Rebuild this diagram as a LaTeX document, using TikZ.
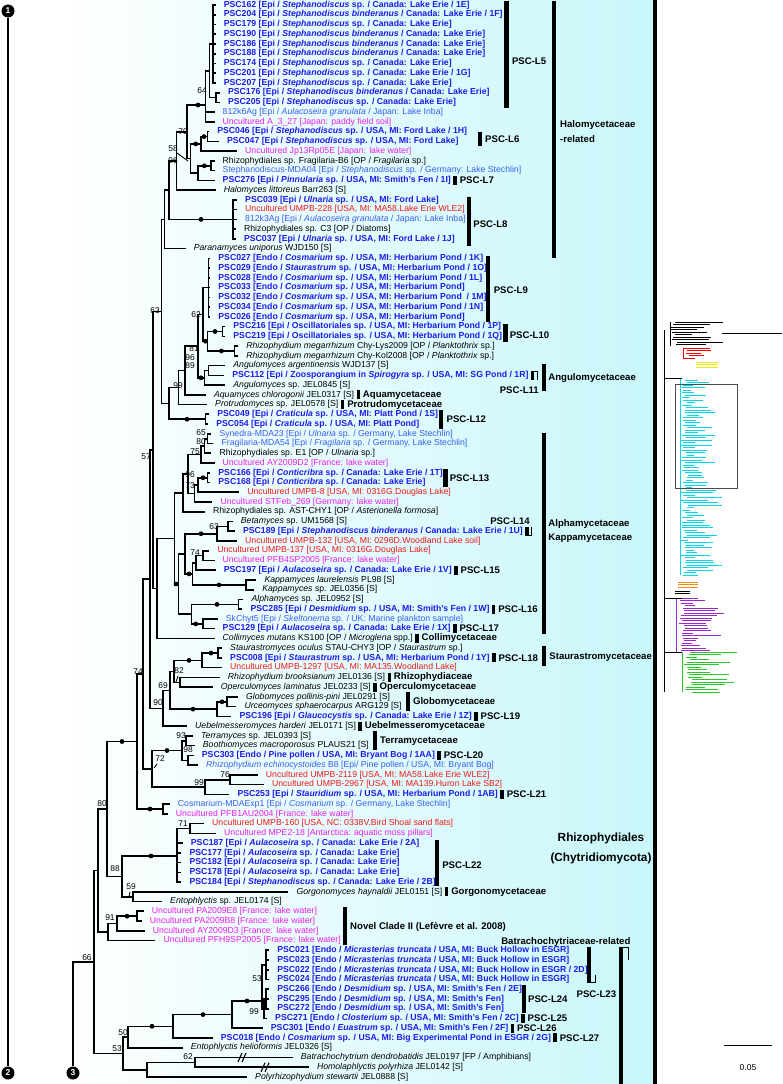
\documentclass[tikz,border=0pt]{standalone}
\usepackage{fontspec}
\setmainfont{Liberation Sans}
\usetikzlibrary{calc}
\definecolor{pscb}{RGB}{28,28,235}
\definecolor{lblue}{RGB}{55,95,240}
\definecolor{mag}{RGB}{235,30,235}
\definecolor{redA}{RGB}{240,25,25}
\definecolor{bgc}{RGB}{200,247,250}
\definecolor{thcyan}{RGB}{0,215,235}
\definecolor{thpurple}{RGB}{150,40,200}
\definecolor{thgreen}{RGB}{40,200,40}
\definecolor{thorange}{RGB}{240,140,30}
\definecolor{thyellow}{RGB}{240,230,20}
\pgfmathdeclarefunction{R}{1}{\pgfmathparse{5+(#1-1)*9.745}}
\newcommand\leafnode[4]{\node[#3] (L#1) at (#2,{R(#1)}) {#4};}
\newcommand\edgeL[2]{\draw[br] (#1) |- ([xshift=-8pt]L#2.west);}
\newcommand\edgeI[2]{\draw[br] (#1) |- (#2);}
\newcommand\tagbar[3]{\draw[sbar] ([xshift=4pt,yshift=-4.5pt]L#1.east) -- ([xshift=4pt,yshift=4.5pt]L#1.east);
  \node[lab] (#2) at ([xshift=8.5pt]L#1.east) {#3};}
\tikzset{
 lf/.style={anchor=west, inner sep=0pt, font=\fontsize{8.7}{9}\selectfont},
 psc/.style={lf, text=pscb, font=\fontsize{8.7}{9}\selectfont\bfseries},
 lb/.style={lf, text=lblue},
 mg/.style={lf, text=mag},
 rd/.style={lf, text=redA},
 bk/.style={lf, text=black},
 br/.style={line width=1.6pt},
 dt/.style={circle, fill=black, inner sep=0pt, minimum size=4.8pt},
 bs/.style={inner sep=0pt, font=\fontsize{8.4}{9}\selectfont},
 bar/.style={line width=4.2pt},
 sbar/.style={line width=3.4pt},
 thin/.style={line width=0.9pt},
 lab/.style={anchor=west, inner sep=0pt, font=\fontsize{9.6}{10}\selectfont\bfseries},
 biglab/.style={inner sep=0pt, font=\fontsize{11.8}{13}\selectfont\bfseries},
 numc/.style={circle, fill=black, text=white, inner sep=0pt, minimum size=13pt, font=\fontsize{8.5}{9}\selectfont\bfseries},
}
\begin{document}
\begin{tikzpicture}[x=1pt,y=-1pt]
\useasboundingbox (0,0) rectangle (782,1084);
\shade[left color=white,right color=bgc] (60,0) rectangle (655,1084);
\draw[line width=3.4pt] (655,0) -- (655,1084);

% ---------------- leaves ----------------
\leafnode{1}{223.6}{psc}{PSC162 [Epi / \textit{Stephanodiscus} sp. / Canada: Lake Erie / 1E]}
\leafnode{2}{223.6}{psc}{PSC204 [Epi / \textit{Stephanodiscus binderanus} / Canada: Lake Erie / 1F]}
\leafnode{3}{223.6}{psc}{PSC179 [Epi / \textit{Stephanodiscus} sp. / Canada: Lake Erie]}
\leafnode{4}{223.6}{psc}{PSC190 [Epi / \textit{Stephanodiscus binderanus} / Canada: Lake Erie]}
\leafnode{5}{223.6}{psc}{PSC186 [Epi / \textit{Stephanodiscus binderanus} / Canada: Lake Erie]}
\leafnode{6}{223.6}{psc}{PSC188 [Epi / \textit{Stephanodiscus binderanus} / Canada: Lake Erie]}
\leafnode{7}{223.6}{psc}{PSC174 [Epi / \textit{Stephanodiscus} sp. / Canada: Lake Erie]}
\leafnode{8}{223.6}{psc}{PSC201 [Epi / \textit{Stephanodiscus} sp. / Canada: Lake Erie / 1G]}
\leafnode{9}{223.6}{psc}{PSC207 [Epi / \textit{Stephanodiscus} sp. / Canada: Lake Erie]}
\leafnode{10}{227.9}{psc}{PSC176 [Epi / \textit{Stephanodiscus binderanus} / Canada: Lake Erie]}
\leafnode{11}{227.9}{psc}{PSC205 [Epi / \textit{Stephanodiscus} sp. / Canada: Lake Erie]}
\leafnode{12}{222.5}{lb}{812k6Ag [Epi / \textit{Aulacoseira granulata} / Japan: Lake Inba]}
\leafnode{13}{222.5}{mg}{Uncultured A\_3\_27 [Japan: paddy field soil]}
\leafnode{14}{217.1}{psc}{PSC046 [Epi / \textit{Stephanodiscus} sp. / USA, MI: Ford Lake / 1H]}
\leafnode{15}{226.8}{psc}{PSC047 [Epi / \textit{Stephanodiscus} sp. / USA, MI: Ford Lake]}
\leafnode{16}{245}{mg}{Uncultured Jp13Rp05E [Japan: lake water]}
\leafnode{17}{222.5}{bk}{Rhizophydiales sp. Fragilaria-B6 [OP / \textit{Fragilaria} sp.]}
\leafnode{18}{222.5}{lb}{Stephanodiscus-MDA04 [Epi / \textit{Stephanodiscus} sp. / Germany: Lake Stechlin]}
\leafnode{19}{222.5}{psc}{PSC276 [Epi / \textit{Pinnularia} sp. / USA, MI: Smith's Fen / 1I]}
\leafnode{20}{223.6}{bk}{\textit{Halomyces littoreus} Barr263 [S]}
\leafnode{21}{245}{psc}{PSC039 [Epi / \textit{Ulnaria} sp. / USA, MI: Ford Lake]}
\leafnode{22}{245}{rd}{Uncultured UMPB-228 [USA, MI: MA58.Lake Erie WLE2]}
\leafnode{23}{245}{lb}{812k3Ag [Epi / \textit{Aulacoseira granulata} / Japan: Lake Inba]}
\leafnode{24}{243.9}{bk}{Rhizophydiales sp. C3 [OP / Diatoms]}
\leafnode{25}{243.9}{psc}{PSC037 [Epi / \textit{Ulnaria} sp. / USA, MI: Ford Lake / 1J]}
\leafnode{26}{193.6}{bk}{\textit{Paranamyces uniporus} WJD150 [S]}
\leafnode{27}{218.2}{psc}{PSC027 [Endo / \textit{Cosmarium} sp. / USA, MI: Herbarium Pond / 1K]}
\leafnode{28}{218.2}{psc}{PSC029 [Endo / \textit{Staurastrum} sp. / USA, MI: Herbarium Pond / 1O]}
\leafnode{29}{218.2}{psc}{PSC028 [Endo / \textit{Cosmarium} sp. / USA, MI: Herbarium Pond / 1L]}
\leafnode{30}{218.2}{psc}{PSC033 [Endo / \textit{Cosmarium} sp. / USA, MI: Herbarium Pond]}
\leafnode{31}{218.2}{psc}{PSC032 [Endo / \textit{Cosmarium} sp. / USA, MI: Herbarium Pond \ / 1M]}
\leafnode{32}{218.2}{psc}{PSC034 [Endo / \textit{Cosmarium} sp. / USA, MI: Herbarium Pond / 1N]}
\leafnode{33}{218.2}{psc}{PSC026 [Endo / \textit{Cosmarium} sp. / USA, MI: Herbarium Pond]}
\leafnode{34}{233.2}{psc}{PSC216 [Epi / Oscillatoriales sp. / USA, MI: Herbarium Pond / 1P]}
\leafnode{35}{233.2}{psc}{PSC219 [Epi / Oscillatoriales sp. / USA, MI: Herbarium Pond / 1Q]}
\leafnode{36}{246.1}{bk}{\textit{Rhizophydium megarrhizum} Chy-Lys2009 [OP / \textit{Planktothrix} sp.]}
\leafnode{37}{246.1}{bk}{\textit{Rhizophydium megarrhizum} Chy-Kol2008 [OP / \textit{Planktothrix} sp.]}
\leafnode{38}{233.2}{bk}{\textit{Angulomyces argentinensis} WJD137 [S]}
\leafnode{39}{232.1}{psc}{PSC112 [Epi / Zoosporangium in \textit{Spirogyra} sp. / USA, MI: SG Pond / 1R]}
\leafnode{40}{233.2}{bk}{\textit{Angulomyces} sp. JEL0845 [S]}
\leafnode{41}{213.9}{bk}{\textit{Aquamyces chlorogonii} JEL0317 [S]}
\leafnode{42}{215}{bk}{\textit{Protrudomyces} sp. JEL0578 [S]}
\leafnode{43}{217.1}{psc}{PSC049 [Epi / \textit{Craticula} sp. / USA, MI: Platt Pond / 1S]}
\leafnode{44}{216.1}{psc}{PSC054 [Epi / \textit{Craticula} sp. / USA, MI: Platt Pond]}
\leafnode{45}{219.3}{lb}{Synedra-MDA23 [Epi / \textit{Ulnaria} sp. / Germany, Lake Stechlin]}
\leafnode{46}{221.4}{lb}{Fragilaria-MDA54 [Epi / \textit{Fragilaria} sp. / Germany, Lake Stechlin]}
\leafnode{47}{219.3}{bk}{Rhizophydiales sp. E1 [OP / \textit{Ulnaria} sp.]}
\leafnode{48}{222.5}{mg}{Uncultured AY2009D2 [France: lake water]}
\leafnode{49}{218.2}{psc}{PSC166 [Epi / \textit{Conticribra} sp. / Canada: Lake Erie / 1T]}
\leafnode{50}{218.2}{psc}{PSC168 [Epi / \textit{Conticribra} sp. / Canada: Lake Erie]}
\leafnode{51}{247.1}{rd}{Uncultured UMPB-8 [USA, MI: 0316G.Douglas Lake]}
\leafnode{52}{220.4}{mg}{Uncultured STFeb\_269 [Germany: lake water]}
\leafnode{53}{212.9}{bk}{Rhizophydiales sp. AST-CHY1 [OP / \textit{Asterionella formosa}]}
\leafnode{54}{240.7}{bk}{\textit{Betamyces} sp. UM1568 [S]}
\leafnode{55}{242.9}{psc}{PSC189 [Epi / \textit{Stephanodiscus binderanus} / Canada: Lake Erie / 1U]}
\leafnode{56}{245}{rd}{Uncultured UMPB-132 [USA, MI: 0296D.Woodland Lake soil]}
\leafnode{57}{217.1}{rd}{Uncultured UMPB-137 [USA, MI: 0316G.Douglas Lake]}
\leafnode{58}{222.5}{mg}{Uncultured PFB4SP2005 [France: lake water]}
\leafnode{59}{223.6}{psc}{PSC197 [Epi / \textit{Aulacoseira} sp. / Canada: Lake Erie / 1V]}
\leafnode{60}{264.3}{bk}{\textit{Kappamyces laurelensis} PL98 [S]}
\leafnode{61}{262.1}{bk}{\textit{Kappamyces} sp. JEL0356 [S]}
\leafnode{62}{251.4}{bk}{\textit{Alphamyces} sp. JEL0952 [S]}
\leafnode{63}{250.4}{psc}{PSC285 [Epi / \textit{Desmidium} sp. / USA, MI: Smith's Fen / 1W]}
\leafnode{64}{225.7}{lb}{SkChyt5 [Epi / \textit{Skeltonema} sp. / UK: Marine plankton sample]}
\leafnode{65}{222.5}{psc}{PSC129 [Epi / \textit{Aulacoseira} sp. / Canada: Lake Erie / 1X]}
\leafnode{66}{222.5}{bk}{\textit{Collimyces mutans} KS100 [OP / \textit{Microglena} spp.]}
\leafnode{67}{230}{bk}{\textit{Staurastromyces oculus} STAU-CHY3 [OP / \textit{Staurastrum} sp.]}
\leafnode{68}{230}{psc}{PSC008 [Epi / \textit{Staurastrum} sp. / USA, MI: Herbarium Pond / 1Y]}
\leafnode{69}{230}{rd}{Uncultured UMPB-1297 [USA, MI: MA135.Woodland Lake]}
\leafnode{70}{227.7}{bk}{\textit{Rhizophydium brooksianum} JEL0136 [S]}
\leafnode{71}{220.7}{bk}{\textit{Operculomyces laminatus} JEL0233 [S]}
\leafnode{72}{246}{bk}{\textit{Globomyces pollinis-pini} JEL0291 [S]}
\leafnode{73}{244.3}{bk}{\textit{Urceomyces sphaerocarpus} ARG129 [S]}
\leafnode{74}{239.3}{psc}{PSC196 [Epi / \textit{Glaucocystis} sp. / Canada: Lake Erie / 1Z]}
\leafnode{75}{195}{bk}{\textit{Uebelmesseromyces harderi} JEL0171 [S]}
\leafnode{76}{201}{bk}{\textit{Terramyces} sp. JEL0393 [S]}
\leafnode{77}{202.7}{bk}{\textit{Boothiomyces macroporosus} PLAUS21 [S]}
\leafnode{78}{201.7}{psc}{PSC303 [Endo / Pine pollen / USA, MI: Bryant Bog / 1AA]}
\leafnode{79}{206}{lb}{\textit{Rhizophydium echinocystoides} B8 [Epi/ Pine pollen / USA, MI: Bryant Bog]}
\leafnode{80}{265.7}{rd}{Uncultured UMPB-2119 [USA, MI: MA58.Lake Erie WLE2]}
\leafnode{81}{271.8}{rd}{Uncultured UMPB-2967 [USA, MI: MA139.Huron Lake SB2]}
\leafnode{82}{237.3}{psc}{PSC253 [Epi / \textit{Stauridium} sp. / USA, MI: Herbarium Pond / 1AB]}
\leafnode{83}{177.7}{lb}{Cosmarium-MDAExp1 [Epi / \textit{Cosmarium} sp. / Germany, Lake Stechlin]}
\leafnode{84}{175.7}{mg}{Uncultured PFB1AU2004 [France: lake water]}
\leafnode{85}{212}{rd}{Uncultured UMPB-160 [USA, NC: 0338V.Bird Shoal sand flats]}
\leafnode{86}{224}{mg}{Uncultured MPE2-18 [Antarctica: aquatic moss pillars]}
\leafnode{87}{190.7}{psc}{PSC187 [Epi / \textit{Aulacoseira} sp. / Canada: Lake Erie / 2A]}
\leafnode{88}{189.3}{psc}{PSC177 [Epi / \textit{Aulacoseira} sp. / Canada: Lake Erie]}
\leafnode{89}{189.3}{psc}{PSC182 [Epi / \textit{Aulacoseira} sp. / Canada: Lake Erie]}
\leafnode{90}{189.3}{psc}{PSC178 [Epi / \textit{Aulacoseira} sp. / Canada: Lake Erie]}
\leafnode{91}{189.3}{psc}{PSC184 [Epi / \textit{Stephanodiscus} sp. / Canada: Lake Erie / 2B]}
\leafnode{92}{296.4}{bk}{\textit{Gorgonomyces haynaldii} JEL0151 [S]}
\leafnode{93}{170}{bk}{\textit{Entophlyctis} sp. JEL0174 [S]}
\leafnode{94}{151.7}{mg}{Uncultured PA2009E8 [France: lake water]}
\leafnode{95}{149.7}{mg}{Uncultured PA2009B8 [France: lake water]}
\leafnode{96}{152.7}{mg}{Uncultured AY2009D3 [France: lake water]}
\leafnode{97}{163.3}{mg}{Uncultured PFH9SP2005 [France: lake water]}
\leafnode{98}{277.1}{psc}{PSC021 [Endo / \textit{Micrasterias truncata} / USA, MI: Buck Hollow in ESGR]}
\leafnode{99}{277.1}{psc}{PSC023 [Endo / \textit{Micrasterias truncata} / USA, MI: Buck Hollow in ESGR]}
\leafnode{100}{277.1}{psc}{PSC022 [Endo / \textit{Micrasterias truncata} / USA, MI: Buck Hollow in ESGR / 2D]}
\leafnode{101}{277.1}{psc}{PSC024 [Endo / \textit{Micrasterias truncata} / USA, MI: Buck Hollow in ESGR]}
\leafnode{102}{277.1}{psc}{PSC266 [Endo / \textit{Desmidium} sp. / USA, MI: Smith's Fen / 2E]}
\leafnode{103}{277.1}{psc}{PSC295 [Endo / \textit{Desmidium} sp. / USA, MI: Smith's Fen]}
\leafnode{104}{277.1}{psc}{PSC272 [Endo / \textit{Desmidium} sp. / USA, MI: Smith's Fen]}
\leafnode{105}{275}{psc}{PSC271 [Endo / \textit{Closterium} sp. / USA, MI: Smith's Fen / 2C]}
\leafnode{106}{270.7}{psc}{PSC301 [Endo / \textit{Euastrum} sp. / USA, MI: Smith's Fen / 2F]}
\leafnode{107}{220.7}{psc}{PSC018 [Endo / \textit{Cosmarium} sp. / USA, MI: Big Experimental Pond in ESGR / 2G]}
\leafnode{108}{190.7}{bk}{\textit{Entophlyctis helioformis} JEL0326 [S]}
\leafnode{109}{300.7}{bk}{\textit{Batrachochytrium dendrobatidis} JEL0197 [FP / Amphibians]}
\leafnode{110}{316.8}{bk}{\textit{Homolaphlyctis polyrhiza} JEL0142 [S]}
\leafnode{111}{255}{bk}{\textit{Polyrhizophydium stewartii} JEL0888 [S]}

% ---------------- internal nodes ----------------
\coordinate (a1) at (212.9,44.0);  \coordinate (a2) at (216.1,97.6);
\coordinate (a3) at (209.6,70.8);  \coordinate (a4) at (205.4,105);
\coordinate (a5) at (207.5,136.6); \coordinate (a6) at (201.1,143.9);
\coordinate (a7) at (210.7,165.8); \coordinate (a8) at (197.9,173.1);
\coordinate (a9) at (190.4,158.5); \coordinate (a10) at (187.1,131.8);
\coordinate (a11) at (176.4,161);  \coordinate (a12) at (233.2,219.4);
\coordinate (a13) at (168.9,190.2); \coordinate (a14) at (164.6,219.4);
\coordinate (b1) at (208.6,287.6); \coordinate (b2) at (222.5,331.5);
\coordinate (b3) at (234.3,351);   \coordinate (b4) at (207.5,341.2);
\coordinate (b5) at (203.2,314.4); \coordinate (b6) at (208.6,370.5);
\coordinate (b7) at (204.3,377.8); \coordinate (b8) at (197.9,346.1);
\coordinate (b9) at (185,370.5);   \coordinate (b10) at (178.6,387.5);
\coordinate (c1) at (205.4,419.2); \coordinate (c2) at (168.9,403.3);
\coordinate (n63) at (161.4,311.4);
\coordinate (d1) at (207.5,438.7); \coordinate (d2) at (204.3,446);
\coordinate (d3) at (201.1,454.5); \coordinate (d4) at (207.5,477.7);
\coordinate (d5) at (197.9,485);   \coordinate (d6) at (194.6,493.5);
\coordinate (d7) at (188.2,474);   \coordinate (d8) at (182.9,492.9);
\coordinate (e1) at (227.9,526.4); \coordinate (e2) at (217.1,533.7);
\coordinate (e3) at (203.2,555.6); \coordinate (e4) at (195.7,562.9);
\coordinate (e5) at (246.1,584.9); \coordinate (e6) at (192.5,573.9);
\coordinate (e7) at (185,553.8);   \coordinate (e8) at (238.6,604.4);
\coordinate (e9) at (203.2,623.9); \coordinate (e10) at (191.4,614.2);
\coordinate (e11) at (178.6,584);  \coordinate (d9) at (174.3,538.5);
\coordinate (e12) at (157.1,588.5); \coordinate (n57) at (153,450);
\coordinate (f1) at (218,653.1);   \coordinate (f2) at (202,660.4);
\coordinate (f3) at (180,682.3);   \coordinate (f4) at (174,671.4);
\coordinate (h1) at (227,701.8);   \coordinate (h2) at (217,709.1);
\coordinate (f5) at (170,690.3);   \coordinate (n90) at (163,708.3);
\coordinate (x150) at (150,579.2);
\coordinate (t1) at (186,740.8);   \coordinate (t2) at (188,760.3);
\coordinate (t3) at (182,750.5);   \coordinate (u1) at (230,779.8);
\coordinate (u2) at (205,787.1);   \coordinate (n72) at (152,768.8);
\coordinate (x143) at (143,674);   \coordinate (v1) at (163,809);
\coordinate (n137) at (137,741.5);
\coordinate (w2) at (190,828.5);   \coordinate (w3) at (177,856);
\coordinate (x12) at (133,896.7);  \coordinate (n88) at (122,876.4);
\coordinate (n80) at (107,809);
\coordinate (g13a) at (137,916.2); \coordinate (g13b) at (117,923.5);
\coordinate (g13c) at (108,932);   \coordinate (n98) at (98,870.5);
\coordinate (g1) at (266,964.9);   \coordinate (g2) at (266,999);
\coordinate (g3) at (264,1008.8);  \coordinate (g4) at (262,1001);
\coordinate (g5) at (232,1014.6);  \coordinate (g6) at (173,1026.3);
\coordinate (g7) at (128,1037);    \coordinate (o1) at (195,1062.4);
\coordinate (o2) at (147,1069.7);  \coordinate (g8) at (123,1053.4);
\coordinate (n66) at (94,962);

% ---------------- edges ----------------
\foreach \k in {1,...,9} {\edgeL{a1}{\k}}
\edgeL{a2}{10} \edgeL{a2}{11}
\edgeI{a3}{a1} \edgeI{a3}{a2}
\edgeI{a4}{a3} \edgeL{a4}{12} \edgeL{a4}{13}
\edgeL{a5}{14} \edgeL{a5}{15}
\edgeI{a6}{a5} \edgeL{a6}{16}
\edgeL{a7}{17} \edgeL{a7}{18}
\edgeI{a8}{a7} \edgeL{a8}{19}
\edgeI{a9}{a6} \edgeI{a9}{a8}
\edgeI{a10}{a4} \edgeI{a10}{a9}
\edgeI{a11}{a10} \edgeL{a11}{20}
\foreach \k in {21,...,25} {\edgeL{a12}{\k}}
\edgeI{a13}{a11} \edgeI{a13}{a12}
\edgeI{a14}{a13} \edgeL{a14}{26}
\foreach \k in {27,...,33} {\edgeL{b1}{\k}}
\edgeL{b2}{34} \edgeL{b2}{35}
\edgeL{b3}{36} \edgeL{b3}{37}
\edgeI{b4}{b2} \edgeI{b4}{b3}
\edgeI{b5}{b1} \edgeI{b5}{b4}
\edgeL{b6}{38} \edgeL{b6}{39}
\edgeI{b7}{b6} \edgeL{b7}{40}
\edgeI{b8}{b5} \edgeI{b8}{b7}
\edgeI{b9}{b8} \edgeL{b9}{41}
\edgeI{b10}{b9} \edgeL{b10}{42}
\edgeL{c1}{43} \edgeL{c1}{44}
\edgeI{c2}{b10} \edgeI{c2}{c1}
\edgeI{n63}{a14} \edgeI{n63}{c2}
\edgeL{d1}{45} \edgeL{d1}{46}
\edgeI{d2}{d1} \edgeL{d2}{47}
\edgeI{d3}{d2} \edgeL{d3}{48}
\edgeL{d4}{49} \edgeL{d4}{50}
\edgeI{d5}{d4} \edgeL{d5}{51}
\edgeI{d6}{d5} \edgeL{d6}{52}
\edgeI{d7}{d3} \edgeI{d7}{d6}
\edgeI{d8}{d7} \edgeL{d8}{53}
\edgeL{e1}{54} \edgeL{e1}{55}
\edgeI{e2}{e1} \edgeL{e2}{56}
\edgeL{e3}{57} \edgeL{e3}{58}
\edgeI{e4}{e3} \edgeL{e4}{59}
\edgeL{e5}{60} \edgeL{e5}{61}
\edgeI{e6}{e4} \edgeI{e6}{e5}
\edgeI{e7}{e2} \edgeI{e7}{e6}
\edgeL{e8}{62} \edgeL{e8}{63}
\edgeL{e9}{64} \edgeL{e9}{65}
\edgeI{e10}{e8} \edgeI{e10}{e9}
\edgeI{e11}{e7} \edgeI{e11}{e10}
\edgeI{d9}{d8} \edgeI{d9}{e11}
\edgeI{e12}{d9} \edgeL{e12}{66}
\edgeI{n57}{n63} \edgeI{n57}{e12}
\edgeL{f1}{67} \edgeL{f1}{68}
\edgeI{f2}{f1} \edgeL{f2}{69}
\edgeL{f3}{70} \edgeL{f3}{71}
\edgeI{f4}{f2} \edgeI{f4}{f3}
\edgeL{h1}{72} \edgeL{h1}{73}
\edgeI{h2}{h1} \edgeL{h2}{74}
\edgeI{f5}{f4} \edgeI{f5}{h2}
\edgeI{n90}{f5} \edgeL{n90}{75}
\edgeI{x150}{n57} \edgeI{x150}{n90}
\edgeL{t1}{76} \edgeL{t1}{77}
\edgeL{t2}{78} \edgeL{t2}{79}
\edgeI{t3}{t1} \edgeI{t3}{t2}
\edgeL{u1}{80} \edgeL{u1}{81}
\edgeI{u2}{u1} \edgeL{u2}{82}
\edgeI{n72}{t3} \edgeI{n72}{u2}
\edgeI{x143}{x150} \edgeI{x143}{n72}
\edgeL{v1}{83} \edgeL{v1}{84}
\edgeI{n137}{x143} \edgeI{n137}{v1}
\edgeL{w2}{85} \edgeL{w2}{86}
\edgeI{w3}{w2} \foreach \k in {87,...,91} {\edgeL{w3}{\k}}
\edgeL{x12}{92} \edgeL{x12}{93}
\edgeI{n88}{w3} \edgeI{n88}{x12}
\edgeI{n80}{n137} \edgeI{n80}{n88}
\edgeL{g13a}{94} \edgeL{g13a}{95}
\edgeI{g13b}{g13a} \edgeL{g13b}{96}
\edgeI{g13c}{g13b} \edgeL{g13c}{97}
\edgeI{n98}{n80} \edgeI{n98}{g13c}
\foreach \k in {98,...,101} {\edgeL{g1}{\k}}
\foreach \k in {102,...,104} {\edgeL{g2}{\k}}
\edgeI{g3}{g2} \edgeL{g3}{105}
\edgeI{g4}{g1} \edgeI{g4}{g3}
\edgeI{g5}{g4} \edgeL{g5}{106}
\edgeI{g6}{g5} \edgeL{g6}{107}
\edgeI{g7}{g6} \edgeL{g7}{108}
\edgeL{o1}{109} \edgeL{o1}{110}
\edgeI{o2}{o1} \edgeL{o2}{111}
\edgeI{g8}{g7} \edgeI{g8}{o2}
\edgeI{n66}{n98} \edgeI{n66}{g8}

% break marks
\foreach \p/\q in {243/1057.5, 266/1067.3} {
  \draw[line width=1.1pt] (\p-5,\q+4.5) -- (\p-1,\q-4.5);
  \draw[line width=1.1pt] (\p-1,\q+4.5) -- (\p+3,\q-4.5);
}

% ---------------- support dots ----------------
\foreach \nm/\p in {da/{198,105}, db/{204,136.6}, dc/{195.7,143.9}, dd/{204.3,165.8}, de/{201,219.4},
  df/{215,331.5}, dg/{221.4,351}, dh/{205.4,341.2}, di/{201,377.8}, dj/{187,419.2},
  dk/{203,477.7}, dl/{201,533.7}, dm/{219,584.9}, dn/{189,573.9}, do/{176,584},
  dp/{217,604.4}, dq/{195.7,623.9}, dr/{211,653.1}, ds/{189,660.4}, dt2/{222,701.8},
  du/{193,709.1}, dv/{167,750.5}, dw/{150,809}, dx/{122,741.5}, dy/{151,856}, dz/{127,916.2},
  dA/{247,1001}, dB/{203,1014.6}, dC/{152,1026.3}}
  {\node[dt] (\nm) at (\p) {};}

% ---------------- support values ----------------
\foreach \nm/\p/\v in {s1/{202,91}/64, s2/{183,132}/70, s3/{173,149}/58, s4/{173,161}/96,
  s5/{155,311}/63, s6/{196,315}/62, s7/{194,349}/81, s8/{190,358}/96, s9/{190,366}/89,
  s10/{178,386}/99, s11/{201,433}/65, s12/{201,442}/80, s13/{195,452}/75, s14/{146,457}/57,
  s15/{190,475}/96, s16/{190,486}/73, s17/{214,527}/63, s18/{195,553}/74, s19/{138,672}/74,
  s20/{179,671}/82, s21/{163,686}/69, s22/{158,703}/90, s23/{181,736}/93, s24/{188,750}/98,
  s25/{160,759}/72, s26/{225,775}/76, s27/{199,783}/99, s28/{102,804}/80, s29/{183,824}/71,
  s30/{115,869}/88, s31/{131,887}/59, s32/{110,918}/91, s33/{87,958}/66, s34/{257,979}/53,
  s35/{254,1012}/99, s36/{123,1033}/50, s37/{117,1049}/53, s38/{188,1057}/62}
  {\node[bs] (\nm) at (\p) {\v};}
\draw[thin] (177,153) -- (188,161);
\draw[thin] (178,676) -- (176,682);
\draw[thin] (157,764) -- (154,768);
\draw[thin] (130,892) -- (129,897);

% ---------------- clade bars and labels ----------------
\draw[bar] (506.4,1) -- (506.4,107.6);   \node[lab] (lL5) at (511.8,61) {PSC-L5};
\draw[bar] (553.6,1) -- (553.6,258);
\node[lab] (lHa) at (560,125.5) {Halomycetaceae};
\node[lab] (lHb) at (560,139) {-related};
\draw[bar] (479.6,132) -- (479.6,146); \node[lab] (lL6) at (485,139.5) {PSC-L6};
\tagbar{19}{lL7}{PSC-L7}
\draw[bar] (468.9,197) -- (468.9,246); \node[lab] (lL8) at (473.2,224) {PSC-L8};
\draw[bar] (488.2,256) -- (488.2,322); \node[lab] (lL9) at (493.6,290) {PSC-L9};
\draw[bar] (505.4,324) -- (505.4,342); \node[lab] (lL10) at (509.6,335) {PSC-L10};
\draw[bar] (543.9,364) -- (543.9,391); \node[lab] (lAng) at (548.2,378.5) {Angulomycetaceae};
\draw[sbar] ([xshift=4pt,yshift=-4.5pt]L39.east) -- ([xshift=4pt,yshift=4.5pt]L39.east);
\draw[thin] ([xshift=5pt,yshift=4.2pt]L39.east) -- ([xshift=8.5pt,yshift=4.2pt]L39.east) -- ([xshift=8.5pt,yshift=-4.5pt]L39.east);
\node[lab,anchor=center] (lL11) at (519.3,390.6) {PSC-L11};
\tagbar{41}{lAq}{Aquamycetaceae}
\tagbar{42}{lPr}{Protrudomycetaceae}
\draw[bar] (441.1,410) -- (441.1,429); \node[lab] (lL12) at (446.4,419.2) {PSC-L12};
\draw[bar] (543.9,433) -- (543.9,634);
\node[lab] (lAl) at (548.2,524) {Alphamycetaceae};
\node[lab] (lKa) at (548.2,538) {Kappamycetaceae};
\draw[bar] (445.4,469) -- (445.4,487); \node[lab] (lL13) at (449.6,477.7) {PSC-L13};
\node[lab,anchor=center] (lL14) at (510,521) {PSC-L14};
\draw[sbar] ([xshift=4pt,yshift=-4.5pt]L55.east) -- ([xshift=4pt,yshift=4.5pt]L55.east);
\draw[thin] ([xshift=5pt,yshift=-4.2pt]L55.east) -- ([xshift=8.5pt,yshift=-4.2pt]L55.east) -- ([xshift=8.5pt,yshift=4.5pt]L55.east);
\tagbar{59}{lL15}{PSC-L15}
\tagbar{63}{lL16}{PSC-L16}
\tagbar{65}{lL17}{PSC-L17}
\tagbar{66}{lCo}{Collimycetaceae}
\tagbar{68}{lL18}{PSC-L18}
\draw[bar] ([xshift=6pt,yshift=12pt]lL18.east) -- ([xshift=6pt,yshift=-8pt]lL18.east);
\node[lab] (lSt) at ([xshift=11pt,yshift=1pt]lL18.east) {Staurastromycetaceae};
\tagbar{70}{lRh}{Rhizophydiaceae}
\tagbar{71}{lOp}{Operculomycetaceae}
\draw[bar] ([xshift=6pt,yshift=14.6pt]L73.east) -- ([xshift=6pt,yshift=-4.4pt]L73.east);
\node[lab] (lGl) at ([xshift=11pt,yshift=4.8pt]L73.east) {Globomycetaceae};
\tagbar{74}{lL19}{PSC-L19}
\tagbar{75}{lUe}{Uebelmesseromycetaceae}
\draw[bar] ([xshift=6pt,yshift=14.6pt]L77.east) -- ([xshift=6pt,yshift=-4.4pt]L77.east);
\node[lab] (lTe) at ([xshift=11pt,yshift=4.8pt]L77.east) {Terramycetaceae};
\tagbar{78}{lL20}{PSC-L20}
\tagbar{82}{lL21}{PSC-L21}
\node[biglab] (lRz1) at (601,838) {Rhizophydiales};
\node[biglab] (lRz2) at (601,858) {(Chytridiomycota)};
\draw[bar] (436.8,840) -- (436.8,886); \node[lab] (lL22) at (442.1,865) {PSC-L22};
\tagbar{92}{lGo}{Gorgonomycetaceae}
\draw[bar] (344.6,907) -- (344.6,945); \node[lab] (lNC) at (350,927) {Novel Clade II (Lefèvre et al. 2008)};
\node[lab] (lBa) at (501.1,942) {Batrachochytriaceae-related};
\draw[bar] (621,947) -- (621,1084); \draw[thin] (622,947.4) -- (628,947.4) -- (628,960);
\draw[bar] (588.9,947) -- (588.9,983); \draw[thin] (590,982.6) -- (595,982.6) -- (595,975);
\node[lab,anchor=center] (lL23) at (596.4,993.7) {PSC-L23};
\draw[bar] (523.6,985) -- (523.6,1013); \node[lab] (lL24) at (527.9,999) {PSC-L24};
\tagbar{105}{lL25}{PSC-L25}
\tagbar{106}{lL26}{PSC-L26}
\tagbar{107}{lL27}{PSC-L27}

% ---------------- connector circles ----------------
\node[numc] (c1) at (8,11) {1};
\node[numc] (c2) at (8,1073) {2};
\node[numc] (c3) at (73,1073) {3};
\draw[line width=1.6pt] (c1) -- (c2);
\draw[br] (c3) |- (n66);

% ---------------- overview thumbnail ----------------
\pgfmathsetseed{11}
\draw[line width=0.7pt] (664,330) -- (664,692);
\foreach \yy in {322,324.5,...,346} {\pgfmathsetmacro\xa{670+8*rnd}\pgfmathsetmacro\xb{\xa+10+40*rnd}
  \draw[line width=0.6pt] (\xa,\yy) -- (\xb,\yy);}
\draw[line width=0.9pt] (722,333) -- (782,333);
\draw[line width=0.6pt] (670,322) -- (670,346);
\foreach \yy in {348,350.5,...,358} {\pgfmathsetmacro\xa{683+6*rnd}\pgfmathsetmacro\xb{\xa+10+22*rnd}
  \draw[red, line width=0.6pt] (\xa,\yy) -- (\xb,\yy);}
\draw[red, line width=0.6pt] (683,348) -- (683,358);
\foreach \yy in {362,364.5,367} {\draw[thyellow, line width=1pt] (696,\yy) -- (718,\yy);}
\draw[thcyan, line width=0.6pt] (680,378) -- (680,575);
\foreach \yy in {380,382.5,...,575} {\pgfmathsetmacro\xa{681+7*rnd}\pgfmathsetmacro\xb{\xa+6+30*rnd}
  \draw[thcyan, line width=0.5pt] (\xa,\yy) -- (\xb,\yy);}
\draw[line width=0.6pt, black!70] (675,384) rectangle (737,488);
\foreach \yy in {582,584.5,587} {\draw[thorange, line width=0.6pt] (678,\yy) -- (698,\yy);}
\foreach \yy in {591,593.5} {\draw[line width=0.6pt] (675,\yy) -- (690,\yy);}
\draw[thpurple, line width=0.6pt] (676,598) -- (676,652);
\foreach \yy in {598,600.5,...,652} {\pgfmathsetmacro\xa{678+7*rnd}\pgfmathsetmacro\xb{\xa+8+34*rnd}
  \draw[thpurple, line width=0.5pt] (\xa,\yy) -- (\xb,\yy);}
\draw[thgreen, line width=0.6pt] (682,652) -- (682,692);
\foreach \yy in {652,654.5,...,692} {\pgfmathsetmacro\xa{684+9*rnd}\pgfmathsetmacro\xb{\xa+8+42*rnd}
  \draw[thgreen, line width=0.5pt] (\xa,\yy) -- (\xb,\yy);}
\foreach \yy in {378,598,652} {\draw[line width=0.6pt] (664,\yy) -- (682,\yy);}

% ---------------- scale bar ----------------
\coordinate (sbA) at (724,1045); \coordinate (sbB) at (772,1045);
\draw[line width=0.8pt] (sbA) -- (sbB);
\node[inner sep=0pt, font=\fontsize{8.5}{9}\selectfont] (sbl) at (748,1068) {0.05};
\end{tikzpicture}
\end{document}
